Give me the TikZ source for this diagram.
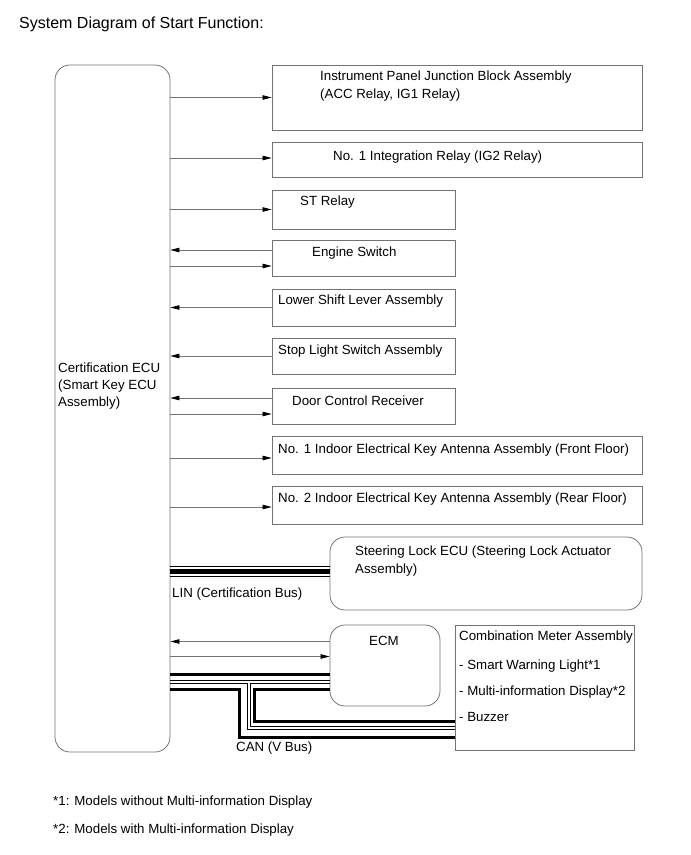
\documentclass[tikz,border=0pt]{standalone}
\usepackage{fontspec}
\setmainfont{Liberation Sans}
\usetikzlibrary{arrows.meta}
\definecolor{boxgray}{gray}{0.45}
\definecolor{linegray}{gray}{0.45}
\begin{document}
\begin{tikzpicture}[x=1pt,y=-1pt,
  box/.style={draw=boxgray, line width=0.8pt, inner sep=0pt},
  rbox/.style={box, rounded corners=15pt},
  lbl/.style={anchor=base west, inner sep=0pt, font=\fontsize{13.3}{16}\selectfont},
  arr/.style={draw=linegray, line width=0.7pt, -{Triangle[length=9pt,width=4.5pt,color=black,fill=black]}},
  busthick/.style={draw=black, line width=3pt},
  linthick/.style={draw=black, line width=4.5pt},
  busthin/.style={draw=black, line width=0.8pt}
]
\useasboundingbox (0,0) rectangle (691,855);

% title
\node[lbl, font=\fontsize{16}{19}\selectfont] (title) at (19,28) {System Diagram of Start Function:};

% ECU
\node[rbox, minimum width=115pt, minimum height=687pt] (ecu) at (112.5,408.5) {};
\node[lbl] (ecut1) at (58,372) {Certification ECU};
\node[lbl] (ecut2) at (58,389) {(Smart Key ECU};
\node[lbl] (ecut3) at (58,406) {Assembly)};

% right boxes
\node[box, minimum width=370pt, minimum height=65pt] (jb) at (457,97.5) {};
\node[lbl] (jbt1) at (320,80) {Instrument Panel Junction Block Assembly};
\node[lbl] (jbt2) at (320,98) {(ACC Relay, IG1 Relay)};

\node[box, minimum width=370pt, minimum height=35pt] (ir) at (457,159.5) {};
\node[lbl] (irt) at (333,160) {No. 1 Integration Relay (IG2 Relay)};

\node[box, minimum width=183pt, minimum height=39pt] (st) at (363.5,209.5) {};
\node[lbl] (stt) at (300,205) {ST Relay};

\node[box, minimum width=183pt, minimum height=36pt] (es) at (363.5,258) {};
\node[lbl] (est) at (312,256) {Engine Switch};

\node[box, minimum width=183pt, minimum height=37pt] (ls) at (363.5,307.5) {};
\node[lbl] (lst) at (278,304) {Lower Shift Lever Assembly};

\node[box, minimum width=183pt, minimum height=36pt] (sl) at (363.5,356) {};
\node[lbl] (slt) at (278,354) {Stop Light Switch Assembly};

\node[box, minimum width=183pt, minimum height=36pt] (dc) at (363.5,406) {};
\node[lbl] (dct) at (292,405) {Door Control Receiver};

\node[box, minimum width=370pt, minimum height=38pt] (a1) at (457,455) {};
\node[lbl] (a1t) at (278,453) {No. 1 Indoor Electrical Key Antenna Assembly (Front Floor)};

\node[box, minimum width=370pt, minimum height=38pt] (a2) at (457,505) {};
\node[lbl] (a2t) at (278,502) {No. 2 Indoor Electrical Key Antenna Assembly (Rear Floor)};

\node[rbox, minimum width=312pt, minimum height=73pt] (slk) at (486,573.5) {};
\node[lbl] (slkt1) at (355,555) {Steering Lock ECU (Steering Lock Actuator};
\node[lbl] (slkt2) at (355,573) {Assembly)};

\node[rbox, minimum width=110pt, minimum height=81pt] (ecm) at (385,665.5) {};
\node[lbl] (ecmt) at (369,645) {ECM};

\node[box, minimum width=179pt, minimum height=125pt] (cm) at (544.5,687.5) {};
\node[lbl] (cmt1) at (459,640) {Combination Meter Assembly};
\node[lbl] (cmt2) at (459,669) {- Smart Warning Light*1};
\node[lbl] (cmt3) at (459,695) {- Multi-information Display*2};
\node[lbl] (cmt4) at (459,721) {- Buzzer};

% arrows
\draw[arr] (jb.west -| ecu.east) -- (jb.west);
\draw[arr] ([yshift=1.5pt]ir.west -| ecu.east) -- ([yshift=1.5pt]ir.west);
\draw[arr] (st.west -| ecu.east) -- (st.west);
\draw[arr] ([yshift=8pt]es.west) -- ([yshift=8pt]es.west -| ecu.east);
\draw[arr] ([yshift=-8pt]es.west -| ecu.east) -- ([yshift=-8pt]es.west);
\draw[arr] (ls.west) -- (ls.west -| ecu.east);
\draw[arr] (sl.west) -- (sl.west -| ecu.east);
\draw[arr] ([yshift=8pt]dc.west) -- ([yshift=8pt]dc.west -| ecu.east);
\draw[arr] ([yshift=-8pt]dc.west -| ecu.east) -- ([yshift=-8pt]dc.west);
\draw[arr] ([yshift=-3pt]a1.west -| ecu.east) -- ([yshift=-3pt]a1.west);
\draw[arr] ([yshift=-2pt]a2.west -| ecu.east) -- ([yshift=-2pt]a2.west);
\draw[arr] ([yshift=24pt]ecm.west) -- ([yshift=24pt]ecm.west -| ecu.east);
\draw[arr] ([yshift=9pt]ecm.west -| ecu.east) -- ([yshift=9pt]ecm.west);

% LIN bus
\draw[linthick] ([yshift=2pt]slk.west -| ecu.east) -- ([yshift=2pt]slk.west);
\draw[busthin] ([yshift=7.2pt]slk.west -| ecu.east) -- ([yshift=7.2pt]slk.west);
\draw[busthin] ([yshift=-3.2pt]slk.west -| ecu.east) -- ([yshift=-3.2pt]slk.west);
\node[lbl] (lin) at (172,597) {LIN (Certification Bus)};

% CAN bus
\draw[busthick] ([yshift=-9pt]ecm.west -| ecu.east) -- ([yshift=-9pt]ecm.west);
\draw[busthin] ([yshift=-14.5pt]ecm.west -| ecu.east) -- ([yshift=-14.5pt]ecm.west);
\draw[busthin] ([yshift=-17.5pt]ecm.west -| ecu.east) -- (247.5,683) -- (247.5,729.3) -- (cm.west |- 0,729.3);
\draw[busthin] ([yshift=-17.5pt]ecm.west) -- (250.3,683) -- (250.3,726) -- (cm.west |- 0,726);
\draw[busthick] ([yshift=-24pt]ecm.west -| ecu.east) -- (239.7,689.5) -- (239.7,737) -- (cm.west |- 0,737);
\draw[busthick] ([yshift=-24pt]ecm.west) -- (254.8,689.5) -- (254.8,721.3) -- (cm.west |- 0,721.3);
\node[lbl] (can) at (236,751) {CAN (V Bus)};

% footnotes
\node[lbl] (fn1) at (53,805) {*1: Models without Multi-information Display};
\node[lbl] (fn2) at (53,833) {*2: Models with Multi-information Display};
\end{tikzpicture}
\end{document}
